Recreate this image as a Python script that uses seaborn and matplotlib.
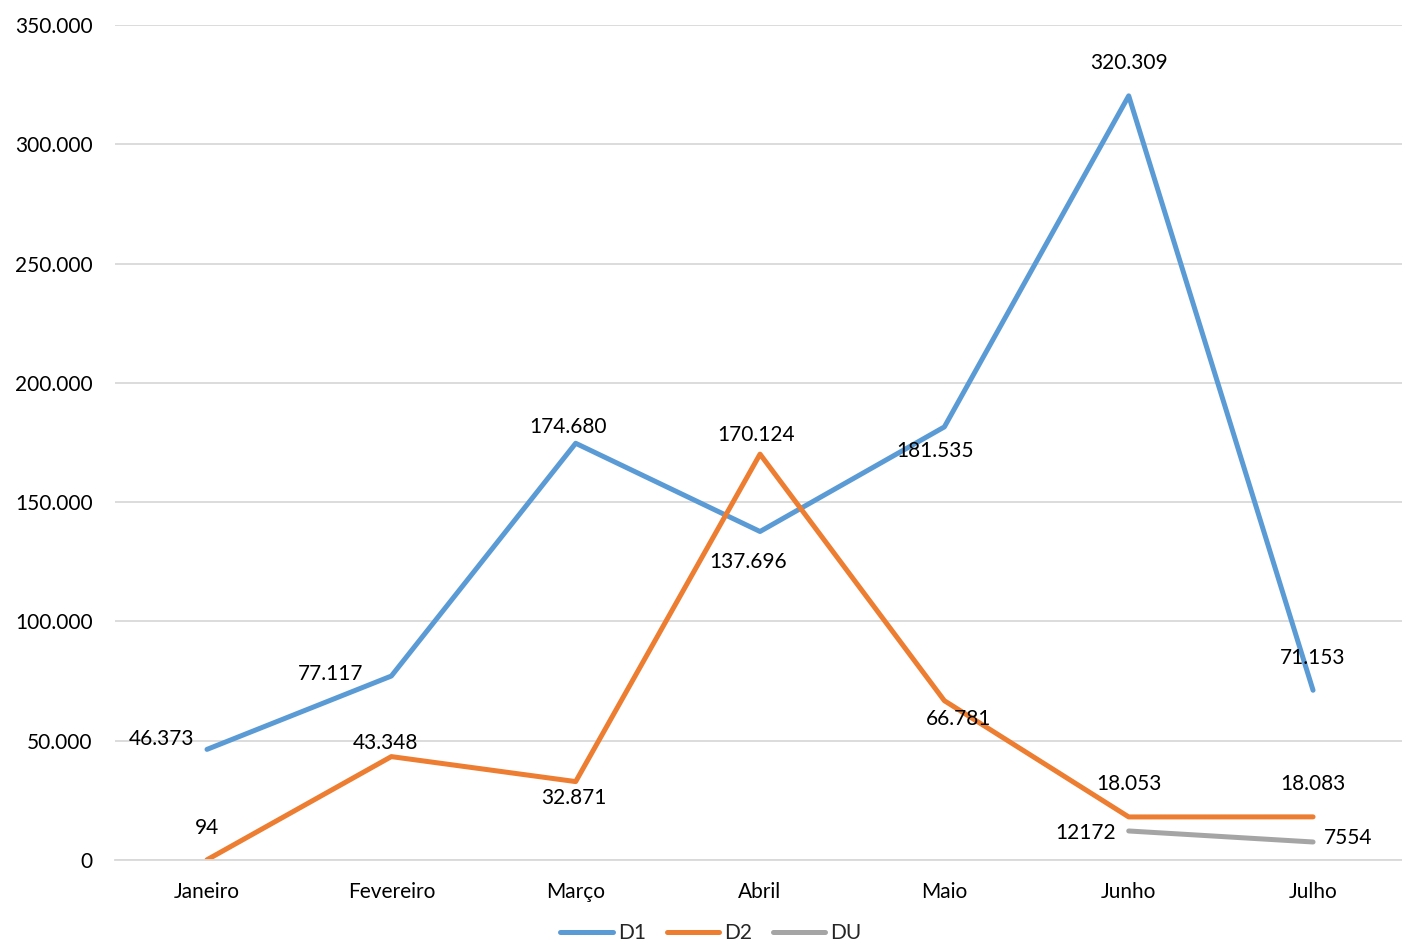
import pandas as pd
import numpy as np
import seaborn as sns
import matplotlib.pyplot as plt
from matplotlib.ticker import FuncFormatter

#data
months = ['Janeiro', 'Fevereiro', 'Março', 'Abril', 'Maio', 'Junho', 'Julho']
d1 = [46373, 77117, 174680, 137696, 181535, 320309, 71153]
d2 = [94, 43348, 32871, 170124, 66781, 18053, 18083]
du = [np.nan, np.nan, np.nan, np.nan, np.nan, 12172, 7554]

series_names = ['D1', 'D2', 'DU']
colors = {'D1': '#5B9BD5', 'D2': '#ED7D31', 'DU': '#A5A5A5'}

#label offsets in pixels (dx, dy), one per point
offsets = {
    'D1': [(-45, 10), (-61, 2), (-8, 16), (-12, -30), (-9, -24), (0, 33), (0, 32)],
    'D2': [(0, 32), (-6, 14), (-2, -16), (-4, 19), (14, -18), (0, 33), (0, 33)],
    'DU': [None, None, None, None, None, (-43, -2), (35, 4)],
}

#long format for seaborn
df = pd.DataFrame({'x': list(range(len(months))) * 3,
                   'month': months * 3,
                   'value': d1 + d2 + du,
                   'serie': [s for s in series_names for _ in months]})

sns.set_style('white')
plt.rcParams['font.family'] = ['Lato', 'DejaVu Sans']
fs = 15

fig = plt.figure(figsize=(14.02, 9.43), dpi=100)
ax = fig.add_axes([0.0819, 0.088, 0.9204, 0.8855])

sns.lineplot(data=df, x='x', y='value', hue='serie', palette=colors,
             linewidth=3.6, ax=ax, sort=False, legend=False)

def fmt(v):
    return f'{v:,.0f}'.replace(',', '.')

for s, vals in zip(series_names, [d1, d2, du]):
    for i, v in enumerate(vals):
        if np.isnan(v):
            continue
        txt = str(int(v)) if s == 'DU' else fmt(v)
        dx, dy = offsets[s][i]
        ax.annotate(txt, (i, v), xytext=(dx, dy), textcoords='offset pixels',
                    ha='center', va='center', fontsize=fs, color='#000000')

ax.set_xlim(-0.5, 6.5)
ax.set_ylim(0, 350000)
ax.set_yticks(range(0, 350001, 50000))
ax.yaxis.set_major_formatter(FuncFormatter(lambda v, p: fmt(v)))
ax.set_xticks(range(len(months)))
ax.set_xticklabels(months)
ax.tick_params(axis='both', labelsize=fs, colors='#000000', length=0)
ax.tick_params(axis='x', pad=16)
ax.tick_params(axis='y', pad=16)
ax.grid(axis='y', color='#D9D9D9', linewidth=1.3)
ax.set_axisbelow(True)
ax.set_xlabel('')
ax.set_ylabel('')
for sp in ['top', 'right', 'left']:
    ax.spines[sp].set_visible(False)
ax.spines['bottom'].set_color('#D9D9D9')
ax.spines['bottom'].set_linewidth(1.3)

#legend at the bottom
handles = [plt.Line2D([], [], color=colors[s], linewidth=3.6) for s in series_names]
fig.legend(handles, series_names, loc='lower center', bbox_to_anchor=(0.507, -0.02),
           ncol=3, frameon=False, fontsize=fs, handlelength=2.5,
           handletextpad=0.25, columnspacing=1.0)

fig.savefig('out.png', dpi=100)
